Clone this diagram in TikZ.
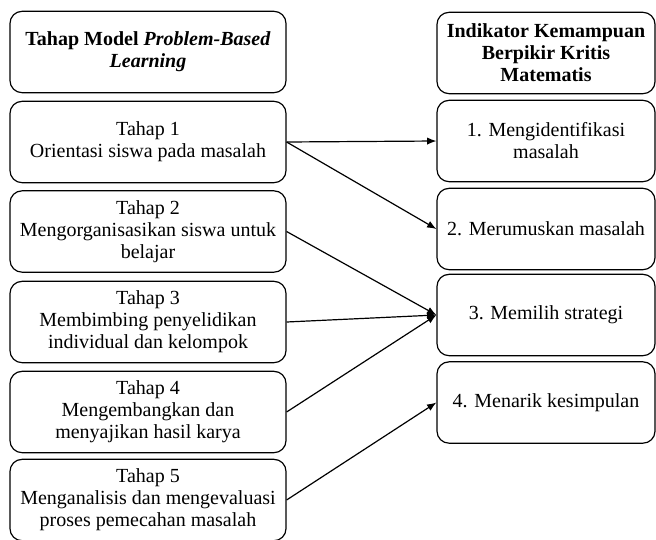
\documentclass[tikz,border=0pt]{standalone}
\usepackage{fontspec}
\setmainfont{Liberation Serif}
\usetikzlibrary{arrows.meta}
\begin{document}
\begin{tikzpicture}[x=0.75pt,y=-0.75pt]
\tikzstyle{b}=[draw, rounded corners=9pt, line width=0.9pt, align=center, font=\fontsize{15}{16.5}\selectfont];
\tikzstyle{tahap}=[b, minimum width=207pt, minimum height=61pt];
\tikzstyle{ind}=[b, minimum width=163.5pt, minimum height=61pt];
\tikzstyle{a}=[-{Latex[length=7pt,width=5.5pt]}, line width=0.9pt];
\useasboundingbox (0,0) rectangle (656,539);
\node [tahap] (h1) at (148,52) {\textbf{Tahap Model \textit{Problem-Based}}\\\textbf{\textit{Learning}}};
\node [tahap] (t1) at (148,142) {Tahap 1\\Orientasi siswa pada masalah};
\node [tahap] (t2) at (148,231.5) {Tahap 2\\Mengorganisasikan siswa untuk\\belajar};
\node [tahap] (t3) at (148,322) {Tahap 3\\Membimbing penyelidikan\\individual dan kelompok};
\node [tahap] (t4) at (148,412) {Tahap 4\\Mengembangkan dan\\menyajikan hasil karya};
\node [tahap] (t5) at (148,500) {Tahap 5\\Menganalisis dan mengevaluasi\\proses pemecahan masalah};
\node [ind] (h2) at (546,53) {\textbf{Indikator Kemampuan}\\\textbf{Berpikir Kritis}\\\textbf{Matematis}};
\node [ind] (i1) at (546,141) {1. Mengidentifikasi\\masalah};
\node [ind] (i2) at (546,229) {2. Merumuskan masalah};
\node [ind] (i3) at (546,315) {3. Memilih strategi};
\node [ind] (i4) at (546,402.5) {4. Menarik kesimpulan};
\draw [a] (t1.east) -- (i1.west);
\draw [a] (t1.east) -- (i2.west);
\draw [a] (t2.east) -- (i3.west);
\draw [a] (t3.east) -- (i3.west);
\draw [a] (t4.east) -- (i3.west);
\draw [a] (t5.east) -- (i4.west);
\end{tikzpicture}
\end{document}
